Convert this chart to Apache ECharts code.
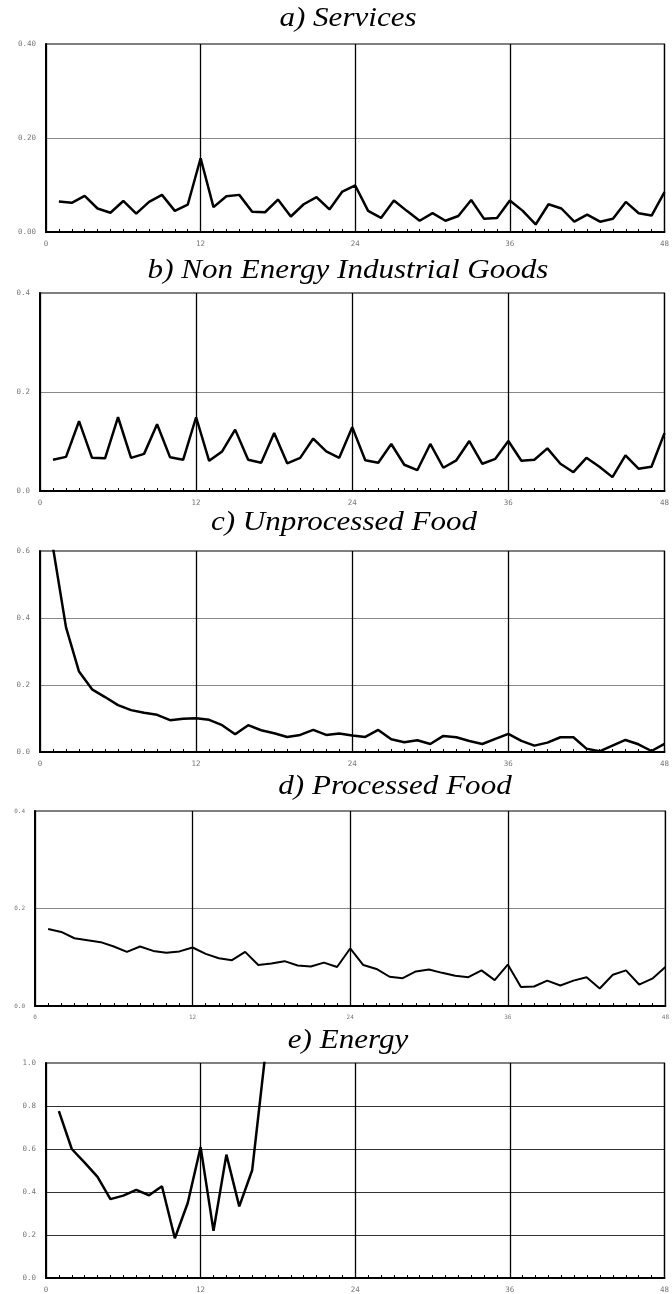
<!DOCTYPE html>
<html>
<head>
<meta charset="utf-8">
<script src="https://cdn.jsdelivr.net/npm/echarts@6/dist/echarts.min.js"></script>
<style>
html,body{margin:0;padding:0;background:#fff;overflow:hidden;}
#main{width:672px;height:1294px;}
</style>
</head>
<body>
<div id="main"></div>
<script>
// 横轴: 滞后期 1..48
const lags = [1,2,3,4,5,6,7,8,9,10,11,12,13,14,15,16,17,18,19,20,21,22,23,24,
    25,26,27,28,29,30,31,32,33,34,35,36,37,38,39,40,41,42,43,44,45,46,47,48]
const xTicks = [0, 12, 24, 36, 48]

const titles = ['a) Services', 'b) Non Energy Industrial Goods', 'c) Unprocessed Food', 'd) Processed Food', 'e) Energy']

const services = [0.065,0.062,0.077,0.050,0.041,0.066,0.039,0.064,0.079,0.045,0.058,0.157,
    0.053,0.076,0.079,0.043,0.042,0.069,0.033,0.059,0.074,0.048,0.086,0.099,
    0.045,0.030,0.067,0.045,0.024,0.040,0.024,0.034,0.068,0.028,0.030,0.067,
    0.045,0.016,0.059,0.050,0.022,0.037,0.022,0.028,0.064,0.040,0.035,0.085]

const nonEnergy = [0.063,0.069,0.141,0.067,0.066,0.149,0.067,0.075,0.135,0.068,0.063,0.149,
    0.061,0.080,0.124,0.063,0.057,0.117,0.056,0.067,0.106,0.080,0.067,0.129,
    0.062,0.057,0.095,0.053,0.042,0.095,0.047,0.062,0.101,0.055,0.065,0.101,
    0.061,0.063,0.086,0.055,0.038,0.067,0.049,0.028,0.072,0.045,0.049,0.117]

const unprocessed = [0.610,0.372,0.240,0.187,0.164,0.140,0.125,0.117,0.111,0.095,0.099,0.101,
    0.096,0.080,0.053,0.080,0.065,0.056,0.045,0.051,0.066,0.051,0.055,0.049,
    0.045,0.066,0.038,0.029,0.035,0.024,0.048,0.044,0.033,0.024,0.039,0.054,
    0.033,0.019,0.028,0.044,0.044,0.010,0.002,0.019,0.036,0.023,0.003,0.024]

const processed = [0.158,0.152,0.139,0.135,0.131,0.122,0.111,0.122,0.113,0.109,0.112,0.120,
    0.107,0.098,0.094,0.111,0.084,0.087,0.092,0.083,0.081,0.089,0.080,0.118,
    0.084,0.076,0.060,0.057,0.071,0.075,0.068,0.062,0.059,0.073,0.053,0.085,
    0.039,0.040,0.052,0.042,0.052,0.059,0.036,0.064,0.073,0.044,0.056,0.080]

// 17期以后超出坐标上限
const energy = [0.776,0.600,0.537,0.470,0.367,0.383,0.410,0.385,0.427,0.185,0.349,0.609,
    0.219,0.574,0.333,0.501,1.03,1.03,1.03,1.03,1.03,1.03,1.03,1.03,
    1.03,1.03,1.03,1.03,1.03,1.03,1.03,1.03,1.03,1.03,1.03,1.03,
    1.03,1.03,1.03,1.03,1.03,1.03,1.03,1.03,1.03,1.03,1.03,1.03]

const yMax = [0.4, 0.4, 0.6, 0.4, 1.0]
const yDigits = [2, 1, 1, 1, 1]
const seriesData = [services, nonEnergy, unprocessed, processed, energy]

// 每个小图的位置
const panels = [
    {left:46, top:44, height:188, right:-4, lw:2.5, fs:7.5, title:{x:348, y:19}},
    {left:40, top:293, height:198, right:2, lw:2.5, fs:7.5, title:{x:348, y:271}},
    {left:40, top:551, height:201, right:2.5, lw:2.5, fs:7.5, title:{x:344, y:523}},
    {left:35, top:811, height:195, right:-3, lw:2, fs:6, title:{x:395, y:787}},
    {left:46, top:1063, height:216, right:-3, lw:2.5, fs:7.5, title:{x:348, y:1041}}
]

let chart = echarts.init(document.getElementById('main'))

let grid = [], xAxis = [], yAxis = [], series = [], graphic = []

panels.forEach((p, i) => {
    grid.push({
        left: p.left,
        top: p.top,
        height: p.height,
        right: p.right,
        show: true,
        borderColor: '#000',
        borderWidth: 1.2,
        containLabel: false
    })
    xAxis.push({
        type: 'value',
        gridIndex: i,
        min: xTicks[0],
        max: xTicks[xTicks.length - 1],
        interval: 12,
        axisLine: {lineStyle: {color: '#000', width: 2}},
        axisTick: {show: true, inside: true, length: 3, lineStyle: {color: '#000'}},
        minorTick: {show: true, splitNumber: 12, length: 3, lineStyle: {color: '#000', width: 1}},
        splitLine: {show: true, lineStyle: {color: '#000', width: 1.3}},
        axisLabel: {
            color: '#777',
            fontSize: p.fs,
            fontFamily: 'DejaVu Sans Mono',
            margin: 8,
            showMaxLabel: true
        }
    })
    yAxis.push({
        type: 'value',
        gridIndex: i,
        min: 0,
        max: yMax[i],
        interval: 0.2,
        axisLine: {show: true, lineStyle: {color: '#000', width: 2}},
        axisTick: {show: false},
        splitLine: {
            show: true,
            showMaxLine: false,
            lineStyle: {color: i == 4 ? '#333' : '#888', width: 1}
        },
        axisLabel: {
            color: '#777',
            fontSize: p.fs,
            fontFamily: 'DejaVu Sans Mono',
            margin: 10,
            formatter: v => v.toFixed(yDigits[i])
        }
    })
    series.push({
        type: 'line',
        xAxisIndex: i,
        yAxisIndex: i,
        data: seriesData[i].map((v, k) => [lags[k], v]),
        showSymbol: false,
        symbol: 'none',
        clip: true,
        lineStyle: {color: '#000', width: p.lw},
        animation: false
    })
    graphic.push({
        type: 'text',
        x: p.title.x,
        y: p.title.y,
        scaleX: 1.15,
        style: {
            text: titles[i],
            fontFamily: 'Liberation Serif',
            fontStyle: 'italic',
            fontSize: 27,
            fill: '#000',
            align: 'center',
            verticalAlign: 'middle'
        }
    })
})

chart.setOption({
    animation: false,
    grid: grid,
    xAxis: xAxis,
    yAxis: yAxis,
    series: series,
    graphic: graphic
})
</script>
</body>
</html>
